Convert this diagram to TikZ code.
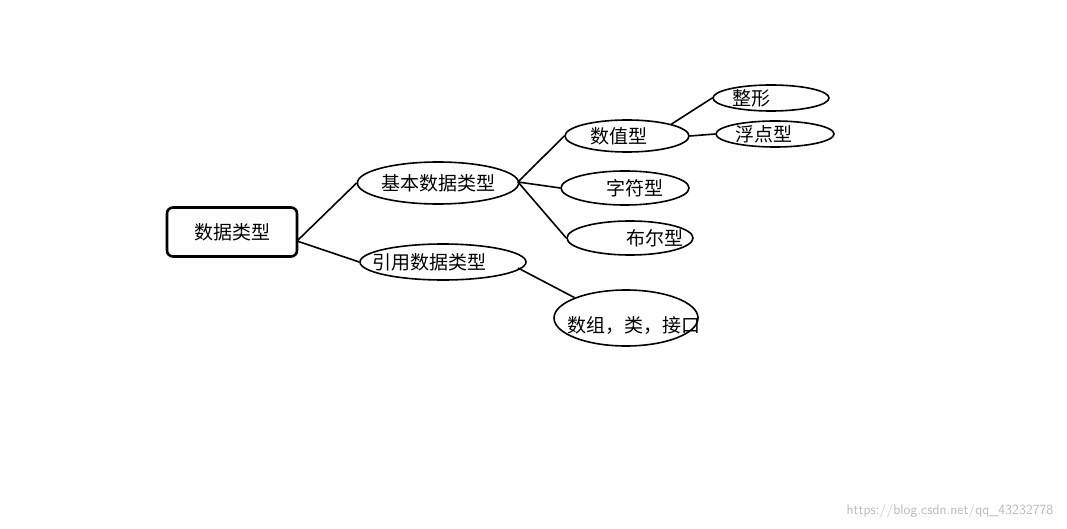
\documentclass[tikz,border=0pt]{standalone}
\usepackage{fontspec}
\setmainfont{Noto Sans CJK SC}
\usetikzlibrary{shapes.geometric}
\begin{document}
\begin{tikzpicture}[x=1pt,y=-1pt,
  tf/.style={font=\fontsize{19}{19}\selectfont},
  ell/.style={draw,line width=1.6pt,ellipse,inner sep=0pt,tf},
  conn/.style={line width=1.6pt}]
\useasboundingbox (0,0) rectangle (1067,529);
\node[draw,line width=2.6pt,rounded corners=6pt,minimum width=130pt,minimum height=49pt,tf] (root) at (232,232) {数据类型};
\node[ell,minimum width=160pt,minimum height=42pt] (ji) at (438,183) {基本数据类型};
\node[ell,minimum width=166pt,minimum height=36pt,label={[tf,xshift=-14pt]center:引用数据类型}] (yy) at (443,262) {};
\node[ell,minimum width=124pt,minimum height=32pt,label={[tf,xshift=-8pt]center:数值型}] (sz) at (627,136) {};
\node[ell,minimum width=116pt,minimum height=26pt,label={[tf,xshift=-20pt]center:整形}] (zx) at (771,98) {};
\node[ell,minimum width=118pt,minimum height=26pt,label={[tf,xshift=-11pt]center:浮点型}] (fd) at (775,134) {};
\node[ell,minimum width=128pt,minimum height=34pt,label={[tf,xshift=10pt]center:字符型}] (zf) at (625,188) {};
\node[ell,minimum width=126pt,minimum height=34pt,label={[tf,xshift=25pt]center:布尔型}] (be) at (630,238) {};
\node[ell,minimum width=144pt,minimum height=56pt,label={[tf,xshift=8pt,yshift=-8pt]center:数组，类，接口}] (sj) at (626,318) {};
\coordinate (r1) at (297,241);
\coordinate (b1) at (518,182);
\coordinate (y1) at (518,268);
\draw[conn] (r1) -- (ji.west);
\draw[conn] (r1) -- (yy.west);
\draw[conn] (b1) -- (sz.west);
\draw[conn] (b1) -- (zf.west);
\draw[conn] (b1) -- (be.west);
\draw[conn] (y1) -- (sj.north west);
\draw[conn] (sz.north east) -- (zx.west);
\draw[conn] (sz.east) -- (fd.west);
\node[text=gray!55,font=\fontsize{14}{14}\selectfont\sffamily] (wm) at (950,511) {https://blog.csdn.net/qq\_43232778};
\end{tikzpicture}
\end{document}
